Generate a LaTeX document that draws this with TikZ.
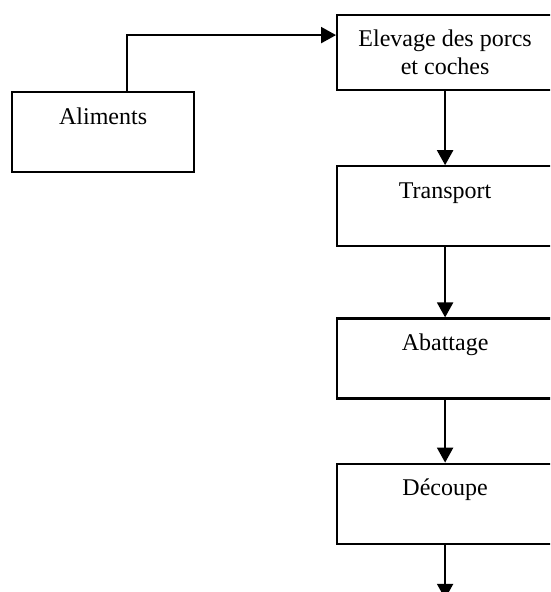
\documentclass[tikz,border=0pt]{standalone}
\usepackage{fontspec}
\setmainfont{Liberation Serif}
\usepackage{tikz}
\usetikzlibrary{arrows.meta}
\usetikzlibrary{positioning}
\tikzstyle{block} = [rectangle, draw, line width=1.1pt, text centered,
    font=\fontsize{12}{14}\selectfont]
\tikzstyle{stage} = [block, minimum width=108pt, minimum height=40pt,
    inner ysep=8pt, text height=8pt, text depth=16pt]
\tikzstyle{line} = [draw, line width=1.1pt, -{Triangle[length=7.5pt,width=8pt]}]

\begin{document}
\begin{tikzpicture}[x=0.5pt, y=-0.5pt]
  \path [use as bounding box, clip] (0,0) rectangle (550,592);
  % Place nodes
  \node [block, minimum width=108pt, minimum height=37.5pt, align=center,
         anchor=north west] (elevage) at (336,14) {Elevage des porcs\\et coches};
  \node [stage, below=37pt of elevage] (transport) {Transport};
  \node [stage, below=35pt of transport] (abattage) {Abattage};
  \node [stage, below=31.5pt of abattage] (decoupe) {Découpe};
  \node [stage, minimum width=91pt, anchor=north west] (aliments) at (11,91) {Aliments};
  \coordinate [below=27pt of decoupe] (sortie);

  % Draw edges
  \path [line] ([xshift=12pt]aliments.north) |- ([yshift=8.75pt]elevage.west);
  \path [line] (elevage) -- (transport);
  \path [line] (transport) -- (abattage);
  \path [line] (abattage) -- (decoupe);
  \path [line] (decoupe) -- (sortie);
\end{tikzpicture}
\end{document}
